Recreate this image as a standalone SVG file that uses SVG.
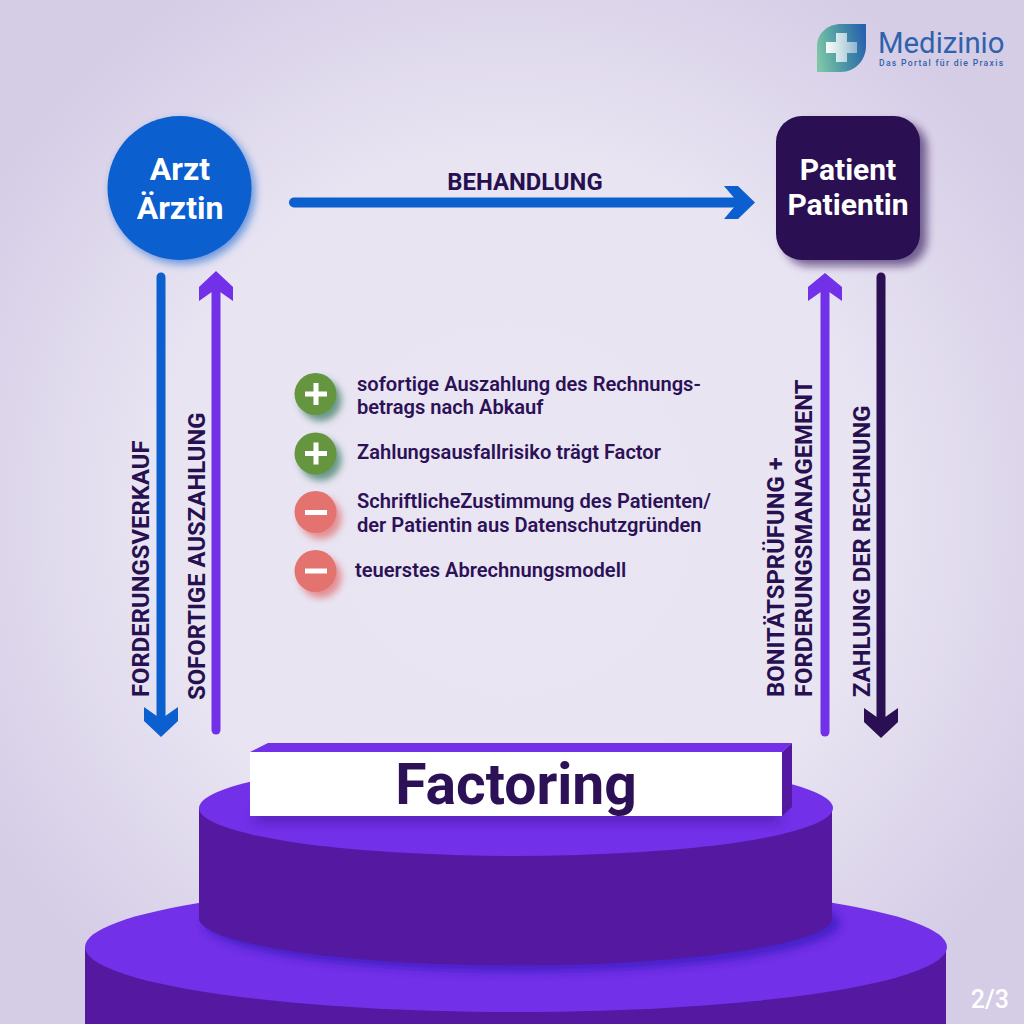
<svg xmlns="http://www.w3.org/2000/svg" width="1024" height="1024" viewBox="0 0 1024 1024">
<style>
text{font-family:Roboto,"Liberation Sans",sans-serif;font-weight:700}
.lab{font-size:23.85px;fill:#27104f}
.item{font-size:20.1px;fill:#2c1157;font-weight:600}
.node{font-size:32px;fill:#fff;text-anchor:middle}
.node2{font-size:30px;fill:#fff;text-anchor:middle}
.sign{stroke:#fff;stroke-width:5;fill:none}
</style>
<defs>
<radialGradient id="bg" gradientUnits="userSpaceOnUse" cx="512" cy="512" r="724">
<stop offset="0" stop-color="#e9e5f3"/><stop offset=".5" stop-color="#e8e4f2"/><stop offset=".85" stop-color="#d5cce6"/><stop offset="1" stop-color="#d5cce6"/>
</radialGradient>
<linearGradient id="leaf" x1="0" y1=".6" x2="1" y2=".4"><stop offset="0" stop-color="#7cc5a8"/><stop offset=".5" stop-color="#4a95a5"/><stop offset="1" stop-color="#2a62ad"/></linearGradient>
<linearGradient id="cross" x1="0" y1="0" x2="1" y2="0"><stop offset="0" stop-color="#fff" stop-opacity=".95"/><stop offset="1" stop-color="#fff" stop-opacity=".45"/></linearGradient>
<filter id="sh" x="-30%" y="-30%" width="170%" height="170%"><feGaussianBlur stdDeviation="4"/></filter>
<filter id="sh2" x="-40%" y="-40%" width="190%" height="190%"><feGaussianBlur stdDeviation="3.5"/></filter>
<filter id="sh3" x="-10%" y="-100%" width="120%" height="300%"><feGaussianBlur stdDeviation="6"/></filter>
<filter id="soft" x="-10%" y="-10%" width="120%" height="120%"><feGaussianBlur stdDeviation=".7"/></filter>
</defs>
<rect id="background" width="1024" height="1024" fill="url(#bg)"/>
<g id="logo">
<path d="M866 24V46C866 60 855 72 841 72H817V46C817 33 828 24 841 24Z" fill="url(#leaf)"/>
<path d="M836 33h11v9h10v11h-10v9h-11v-9h-10v-11h10z" fill="url(#cross)" filter="url(#soft)"/>
<text x="878" y="53" font-size="29.3" style="font-weight:400" fill="#2f62ad">Medizinio</text>
<text x="879" y="66" font-size="8.6" letter-spacing="1.3" style="font-weight:500" fill="#2f62ad">Das Portal für die Praxis</text>
</g>
<g id="podium">
<path d="M85 947V1024H946V947Z" fill="#5419a0"/>
<ellipse cx="516" cy="947" rx="431" ry="65" fill="#7230e8"/>
<ellipse cx="522" cy="923" rx="318" ry="49" fill="#3d1cc0" opacity=".8" filter="url(#sh)"/>
<path d="M199 808V920A317 48 0 0 0 832 920V808Z" fill="#5419a0"/>
<ellipse cx="516" cy="808" rx="317" ry="48" fill="#7230e8"/>
</g>
<g id="node-factoring">
<rect x="255" y="812" width="525" height="10" fill="#3f1293" opacity=".6" filter="url(#sh3)"/>
<path d="M250 752L268 743H792L782 752Z" fill="#7230e8"/>
<path d="M782 752L792 743V807L782 816Z" fill="#5419a0"/>
<rect x="250" y="752" width="532" height="64" fill="#fff"/>
<text x="516" y="804" font-size="57" fill="#2c1157" text-anchor="middle">Factoring</text>
</g>
<g id="node-arzt">
<circle cx="183" cy="192" r="72" fill="#0b5fcf" opacity=".6" filter="url(#sh)"/>
<circle cx="179.500" cy="188" r="72" fill="#0b5fcf"/>
<text class="node" x="180" y="180">Arzt</text>
<text class="node" x="180" y="219">Ärztin</text>
</g>
<g id="node-patient">
<rect x="783" y="122" width="144" height="144" rx="26" fill="#2a0f52" opacity=".6" filter="url(#sh)"/>
<rect x="776" y="116" width="144" height="144" rx="26" fill="#2a0f52"/>
<text class="node2" x="848" y="180">Patient</text>
<text class="node2" x="848" y="215">Patientin</text>
</g>
<g id="connectors">
<path d="M294 202.500H744" stroke="#0b5fcf" stroke-width="10" stroke-linecap="round" fill="none"/>
<path d="M724 186H738L755 202.500L738 219H724L738 202.500Z" fill="#0b5fcf"/>
<path d="M161 277V722" stroke="#0b5fcf" stroke-width="9" stroke-linecap="round" fill="none"/>
<path d="M144 707L161 719L178 707V721L161 737L144 721Z" fill="#0b5fcf"/>
<path d="M216 285V730" stroke="#7230e8" stroke-width="9" stroke-linecap="round" fill="none"/>
<path d="M199 301L216 289L233 301V287L216 271L199 287Z" fill="#7230e8"/>
<path d="M825 285V732" stroke="#7230e8" stroke-width="9" stroke-linecap="round" fill="none"/>
<path d="M808 301L825 289L842 301V287L825 273L808 287Z" fill="#7230e8"/>
<path d="M881 277V722" stroke="#2a0f52" stroke-width="9" stroke-linecap="round" fill="none"/>
<path d="M864 708L881 720L898 708V722L881 738L864 722Z" fill="#2a0f52"/>
</g>
<g id="connector-labels">
<text class="lab" x="525" y="190" text-anchor="middle">BEHANDLUNG</text>
<text class="lab" transform="translate(149,697) rotate(-90)">FORDERUNGSVERKAUF</text>
<text class="lab" transform="translate(205,700) rotate(-90)">SOFORTIGE AUSZAHLUNG</text>
<text class="lab" transform="translate(784,697) rotate(-90)">BONITÄTSPRÜFUNG +</text>
<text class="lab" transform="translate(812,697) rotate(-90)">FORDERUNGSMANAGEMENT</text>
<text class="lab" transform="translate(870,697) rotate(-90)">ZAHLUNG DER RECHNUNG</text>
</g>
<g id="node-plus-1">
<circle cx="320.500" cy="400" r="21" fill="#3f7f65" opacity=".75" filter="url(#sh2)"/>
<circle cx="315.500" cy="394" r="21" fill="#65963f"/>
<path class="sign" d="M305 394H327M316 383V405"/>
<text class="item" x="357" y="391">sofortige Auszahlung des Rechnungs-</text>
<text class="item" x="357" y="414">betrags nach Abkauf</text>
</g>
<g id="node-plus-2">
<circle cx="320.500" cy="459.500" r="21" fill="#3f7f65" opacity=".75" filter="url(#sh2)"/>
<circle cx="315.500" cy="453.500" r="21" fill="#65963f"/>
<path class="sign" d="M305 453.500H327M316 442.500V464.500"/>
<text class="item" x="357" y="458.500">Zahlungsausfallrisiko trägt Factor</text>
</g>
<g id="node-minus-1">
<circle cx="320.500" cy="518" r="21" fill="#e0605f" opacity=".65" filter="url(#sh2)"/>
<circle cx="315.500" cy="512" r="21" fill="#e4736f"/>
<path class="sign" d="M305 512.500H327"/>
<text class="item" x="357" y="508">SchriftlicheZustimmung des Patienten/</text>
<text class="item" x="357" y="531.500">der Patientin aus Datenschutzgründen</text>
</g>
<g id="node-minus-2">
<circle cx="320.500" cy="577" r="21" fill="#e0605f" opacity=".65" filter="url(#sh2)"/>
<circle cx="315.500" cy="571" r="21" fill="#e4736f"/>
<path class="sign" d="M305 571H327"/>
<text class="item" x="355" y="576.500">teuerstes Abrechnungsmodell</text>
</g>
<text id="page" x="1009" y="1008" font-size="25" style="font-weight:500" fill="#fff" text-anchor="end">2/3</text>
</svg>
